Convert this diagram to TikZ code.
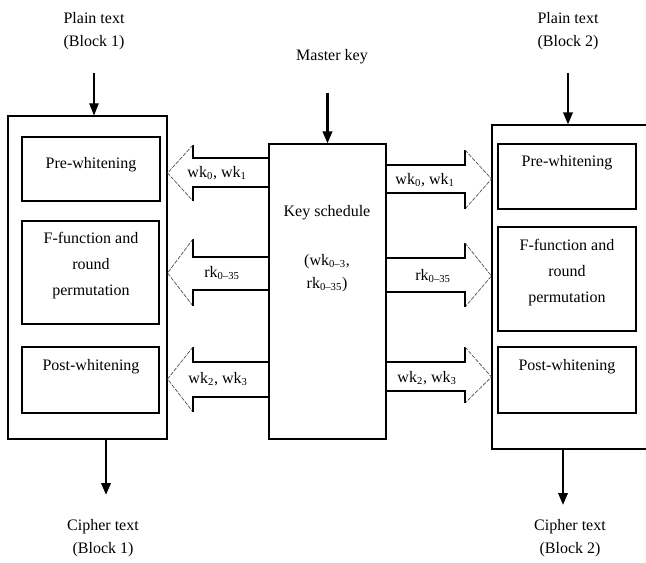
\documentclass[tikz,border=0pt]{standalone}
\usepackage{fontspec}
\setmainfont{Liberation Serif}
\usetikzlibrary{arrows.meta}

\tikzset{
  box/.style={draw=black, line width=0.8pt, inner sep=0pt},
  lbl/.style={align=center, inner sep=1pt, font=\fontsize{12}{17}\selectfont},
  tall/.style={lbl, font=\fontsize{12}{19.5}\selectfont},
  flow/.style={-{Triangle[length=9pt,width=7pt]}, line width=0.8pt},
  bigflow/.style={flow, line width=1.8pt},
  edgeline/.style={line width=0.8pt},
  headline/.style={line width=0.5pt, dash pattern=on 3pt off 1pt, black!70}
}

\begin{document}
\begin{tikzpicture}[x=0.75pt, y=-0.75pt]
\useasboundingbox (0,0) rectangle (646,563);
\clip (0,0) rectangle (646,563);

% blocks
\node[box, minimum width=119.25pt, minimum height=242.25pt] (L) at (87.5,277.5) {};
\node[box, minimum width=103.5pt, minimum height=48pt] (Lpre) at (91,169) {};
\node[box, minimum width=102.75pt, minimum height=77.25pt] (Lf) at (90.5,272.5) {};
\node[box, minimum width=102.75pt, minimum height=49.5pt] (Lpost) at (90.5,380) {};
\node[box, minimum width=87.75pt, minimum height=221.25pt] (K) at (327.5,291.5) {};
\node[box, minimum width=171pt, minimum height=243pt] (R) at (606,287) {};
\node[box, minimum width=103.5pt, minimum height=48.75pt] (Rpre) at (567,176.5) {};
\node[box, minimum width=103.5pt, minimum height=78pt] (Rf) at (567,279) {};
\node[box, minimum width=103.5pt, minimum height=49.5pt] (Rpost) at (567,380) {};

% texts
\node[lbl] (P1) at (94,31) {Plain text\\(Block 1)};
\node[lbl] (P2) at (568,31) {Plain text\\(Block 2)};
\node[lbl] (MK) at (332,57) {Master key};
\node[lbl] (C1) at (103,538) {Cipher text\\(Block 1)};
\node[lbl] (C2) at (570,538) {Cipher text\\(Block 2)};
\node[lbl] (LpreT) at (91,165) {Pre-whitening};
\node[tall] (LfT) at (91,266) {F-function and\\round\\permutation};
\node[lbl] (LpostT) at (91,367) {Post-whitening};
\node[lbl] (RpreT) at (567,163) {Pre-whitening};
\node[tall] (RfT) at (567,273) {F-function and\\round\\permutation};
\node[lbl] (RpostT) at (567,367) {Post-whitening};
\node[lbl] (KT) at (327,213) {Key schedule};
\node[lbl] (KK) at (327,273) {(wk\textsubscript{0--3},\\rk\textsubscript{0--35})};

% key labels
\node[lbl] (kl1) at (217,173) {wk\textsubscript{0}, wk\textsubscript{1}};
\node[lbl] (kl2) at (222,273) {rk\textsubscript{0--35}};
\node[lbl] (kl3) at (218,379) {wk\textsubscript{2}, wk\textsubscript{3}};
\node[lbl] (kr1) at (425,180) {wk\textsubscript{0}, wk\textsubscript{1}};
\node[lbl] (kr2) at (433,276) {rk\textsubscript{0--35}};
\node[lbl] (kr3) at (427,378) {wk\textsubscript{2}, wk\textsubscript{3}};

% data flow
\draw[flow] ([yshift=-16pt]P1.south) -- (P1.south |- L.north);
\draw[bigflow] ([yshift=-16pt]P2.south) -- (P2.south |- R.north);
\draw[bigflow] (K.north |- 0,93) -- (K.north);
\draw[bigflow] (106,0 |- L.south) -- (106,495);
\draw[bigflow] (563,0 |- R.south) -- (563,505);

% key arrows to block 1
\draw[edgeline] (K.west |- 0,158) -- (193,158) -- (193,145);
\draw[headline] (193,145) -- (L.east |- 0,173) -- (193,201);
\draw[edgeline] (193,201) -- (193,187) -- (K.west |- 0,187);
\draw[edgeline] (K.west |- 0,257) -- (193,257) -- (193,239);
\draw[headline] (193,239) -- (L.east |- 0,273) -- (193,306);
\draw[edgeline] (193,306) -- (193,290) -- (K.west |- 0,290);
\draw[edgeline] (K.west |- 0,362) -- (193,362) -- (193,347);
\draw[headline] (193,347) -- (L.east |- 0,379) -- (193,412);
\draw[edgeline] (193,412) -- (193,397) -- (K.west |- 0,397);

% key arrows to block 2
\draw[edgeline] (K.east |- 0,165) -- (465,165) -- (465,150);
\draw[headline] (465,150) -- (R.west |- 0,179) -- (465,209);
\draw[edgeline] (465,209) -- (465,193) -- (K.east |- 0,193);
\draw[edgeline] (K.east |- 0,258) -- (465,258) -- (465,243);
\draw[headline] (465,243) -- (R.west |- 0,276) -- (465,307);
\draw[edgeline] (465,307) -- (465,292) -- (K.east |- 0,292);
\draw[edgeline] (K.east |- 0,362) -- (465,362) -- (465,347);
\draw[headline] (465,347) -- (R.west |- 0,377) -- (465,403);
\draw[edgeline] (465,403) -- (465,391) -- (K.east |- 0,391);
\end{tikzpicture}
\end{document}
